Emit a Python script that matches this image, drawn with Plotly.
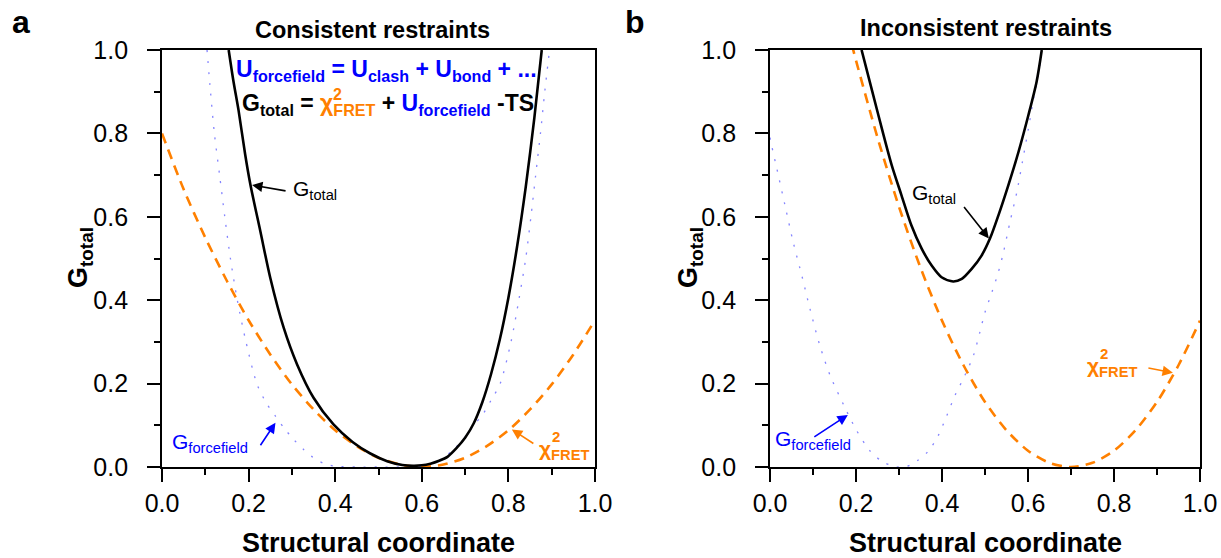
import plotly.graph_objects as go

# ---------------- data ----------------
# Panel a: consistent restraints
xa_fret = [0.00, 0.05, 0.10, 0.15, 0.20, 0.25, 0.30, 0.35, 0.40, 0.45, 0.50,
           0.55, 0.60, 0.65, 0.70, 0.75, 0.80, 0.85, 0.90, 0.95, 1.00]
ya_fret = [0.800, 0.666, 0.550, 0.446, 0.352, 0.270, 0.198, 0.138, 0.088, 0.050, 0.022,
           0.006, 0.000, 0.006, 0.022, 0.050, 0.088, 0.138, 0.198, 0.270, 0.352]

xa_ff = [0.104, 0.112, 0.121, 0.133, 0.145, 0.158, 0.174, 0.194, 0.219, 0.240, 0.262,
         0.283, 0.304, 0.327, 0.350, 0.375, 0.400, 0.450, 0.500, 0.550, 0.600, 0.625,
         0.650, 0.673, 0.696, 0.720, 0.740, 0.760, 0.781, 0.806, 0.824, 0.840, 0.852,
         0.863, 0.874, 0.884, 0.895]
ya_ff = [1.00, 0.90, 0.80, 0.70, 0.60, 0.50, 0.40, 0.30, 0.20, 0.155, 0.122,
         0.092, 0.066, 0.042, 0.022, 0.008, 0.002, 0.000, 0.000, 0.000, 0.002, 0.008,
         0.022, 0.042, 0.066, 0.100, 0.125, 0.160, 0.200, 0.300, 0.400, 0.500, 0.600,
         0.700, 0.800, 0.900, 1.000]

xa_tot = [0.154, 0.165, 0.177, 0.192, 0.204, 0.227, 0.250, 0.281, 0.312, 0.350, 0.396,
          0.440, 0.480, 0.520, 0.555, 0.580, 0.600, 0.620, 0.640, 0.660, 0.680, 0.700,
          0.720, 0.740, 0.760, 0.780, 0.800, 0.820, 0.840, 0.860, 0.877]
ya_tot = [1.000, 0.925, 0.854, 0.750, 0.678, 0.566, 0.454, 0.334, 0.246, 0.166, 0.102,
          0.060, 0.033, 0.014, 0.005, 0.003, 0.004, 0.008, 0.015, 0.025, 0.045, 0.070,
          0.105, 0.156, 0.223, 0.305, 0.406, 0.528, 0.671, 0.838, 1.000]

# Panel b: inconsistent restraints
xb_fret = [0.19, 0.20, 0.25, 0.30, 0.35, 0.40, 0.45, 0.50, 0.55, 0.60, 0.65,
           0.70, 0.75, 0.80, 0.85, 0.90, 0.95, 1.00]
yb_fret = [1.014, 0.975, 0.790, 0.624, 0.478, 0.351, 0.244, 0.156, 0.088, 0.039, 0.010,
           0.000, 0.010, 0.039, 0.088, 0.156, 0.244, 0.351]

xb_ff = [0.000, 0.004, 0.016, 0.035, 0.054, 0.074, 0.093, 0.116, 0.140, 0.174, 0.200,
         0.233, 0.260, 0.287, 0.314, 0.341, 0.368, 0.391, 0.411, 0.430, 0.453, 0.473,
         0.488, 0.500, 0.516, 0.531, 0.543, 0.558, 0.574, 0.587, 0.601, 0.613, 0.624, 0.632]
yb_ff = [0.790, 0.770, 0.715, 0.627, 0.539, 0.459, 0.379, 0.291, 0.219, 0.143, 0.090,
         0.038, 0.014, 0.002, 0.000, 0.014, 0.038, 0.075, 0.123, 0.171, 0.219, 0.267,
         0.323, 0.371, 0.419, 0.467, 0.515, 0.587, 0.659, 0.732, 0.812, 0.884, 0.940, 1.000]

xb_tot = [0.213, 0.236, 0.260, 0.283, 0.306, 0.329, 0.353, 0.376, 0.399, 0.426, 0.446,
          0.469, 0.492, 0.512, 0.531, 0.554, 0.578, 0.601, 0.620, 0.632]
yb_tot = [1.000, 0.908, 0.812, 0.724, 0.651, 0.579, 0.523, 0.483, 0.455, 0.445, 0.451,
          0.475, 0.507, 0.549, 0.603, 0.675, 0.756, 0.844, 0.924, 1.000]

tick_vals = [0.0, 0.2, 0.4, 0.6, 0.8, 1.0]
tick_text = ["0.0", "0.2", "0.4", "0.6", "0.8", "1.0"]

# ---------------- styles ----------------
FONT = "Liberation Sans, Arial, sans-serif"
ORANGE = "#FF8000"
BLUE = "#0000FF"
FF_LINE = dict(color="rgba(80,80,255,0.7)", width=1.3, dash="2px,9px")
FRET_LINE = dict(color=ORANGE, width=2.6, dash="10px,7px")
TOT_LINE = dict(color="black", width=2.6)

fig = go.Figure()
for xs, ys, line, xa, ya in [
    (xa_ff, ya_ff, FF_LINE, "x", "y"),
    (xa_fret, ya_fret, FRET_LINE, "x", "y"),
    (xa_tot, ya_tot, TOT_LINE, "x", "y"),
    (xb_ff, yb_ff, FF_LINE, "x2", "y2"),
    (xb_fret, yb_fret, FRET_LINE, "x2", "y2"),
    (xb_tot, yb_tot, TOT_LINE, "x2", "y2"),
]:
    fig.add_trace(go.Scatter(x=xs, y=ys, mode="lines", line=dict(shape="spline", smoothing=0.8, **line),
                             xaxis=xa, yaxis=ya, showlegend=False, hoverinfo="skip"))

W, H = 1221, 558
PAD = "\u00a0\u00a0"  # gap between y tick labels and ticks

def axis(domain, texts):
    return dict(
        domain=domain, range=[0, 1], showline=True, linewidth=2, linecolor="black",
        mirror=True, ticks="outside", ticklen=13, tickwidth=2, tickcolor="black",
        tickvals=tick_vals, ticktext=texts,
        tickfont=dict(size=25, family=FONT, color="black"), automargin=False,
        minor=dict(dtick=0.1, tick0=0, ticks="outside", ticklen=6, tickwidth=2, tickcolor="black"),
        showgrid=False, zeroline=False,
    )

ytexts = [t + PAD for t in tick_text]
xdom_a = [162 / W, 595 / W]
xdom_b = [770 / W, 1200 / W]
ydom = [1 - 467 / H, 1 - 50 / H]

fig.update_layout(
    width=W, height=H, margin=dict(l=0, r=0, t=0, b=0, autoexpand=False),
    paper_bgcolor="white", plot_bgcolor="white",
    font=dict(family=FONT, color="black"),
    xaxis=dict(axis(xdom_a, tick_text), anchor="y"), yaxis=dict(axis(ydom, ytexts), anchor="x"),
    xaxis2=dict(axis(xdom_b, tick_text), anchor="y2"), yaxis2=dict(axis(ydom, ytexts), anchor="x2"),
)

ann = []

def ptext(text, px, py, size, angle=0, xanchor="center"):
    ann.append(dict(text=text, x=px / W, y=1 - py / H, xref="paper", yref="paper",
                    showarrow=False, font=dict(size=size, family=FONT, color="black"),
                    xanchor=xanchor, yanchor="middle", textangle=angle))

# panel letters and titles
ptext("<b>a</b>", 21, 22, 32)
ptext("<b>b</b>", 635, 22, 32)
ptext("<b>Consistent restraints</b>", 372, 30, 23.5)
ptext("<b>Inconsistent restraints</b>", 986, 28, 23.5)
# axis titles
ptext("<b>Structural coordinate</b>", 378, 543, 27)
ptext("<b>Structural coordinate</b>", 985, 543, 27)
ptext("<b>G<sub>total</sub></b>", 80, 258, 27, angle=-90)
ptext("<b>G<sub>total</sub></b>", 690, 258, 27, angle=-90)

def dtext(text, x, y, xr, yr, size, color, xanchor="left"):
    ann.append(dict(text=text, x=x, y=y, xref=xr, yref=yr, showarrow=False,
                    font=dict(size=size, family=FONT, color=color),
                    xanchor=xanchor, yanchor="middle"))

def arrow(x, y, ax, ay, xr, yr, color):
    ann.append(dict(text="", x=x, y=y, xref=xr, yref=yr, ax=ax, ay=ay,
                    axref="pixel", ayref="pixel", showarrow=True, arrowhead=2,
                    arrowsize=1.3, arrowwidth=1.6, arrowcolor=color, standoff=0))

# formulas in panel a
dtext(f"<b>U<sub>forcefield</sub> = U<sub>clash</sub> + U<sub>bond</sub> + ...</b>",
      0.166, 0.952, "x", "y", 23, BLUE)
dtext(f"<b>G<sub>total</sub> = <span style='color:{ORANGE}'>χ<sub>FRET</sub></span> + "
      f"<span style='color:{BLUE}'>U<sub>forcefield</sub></span> -TS</b>",
      0.180, 0.870, "x", "y", 23, "black")
dtext("<b>2</b>", 0.390, 0.893, "x", "y", 16, ORANGE)

# curve labels, panel a
dtext("G<sub>total</sub>", 0.298, 0.665, "x", "y", 21, "black")
arrow(0.208, 0.676, 35, 6, "x", "y", "black")
dtext("G<sub>forcefield</sub>", 0.018, 0.058, "x", "y", 21, BLUE)
arrow(0.262, 0.106, -16, 24, "x", "y", BLUE)
dtext("<b>χ<sub>FRET</sub></b>", 0.866, 0.041, "x", "y", 21, ORANGE)
dtext("<b>2</b>", 0.896, 0.072, "x", "y", 15, ORANGE)
arrow(0.808, 0.09, 23, 15, "x", "y", ORANGE)

# curve labels, panel b
dtext("G<sub>total</sub>", 0.326, 0.655, "x2", "y2", 21, "black")
arrow(0.509, 0.548, -26, -33, "x2", "y2", "black")
dtext("G<sub>forcefield</sub>", 0.007, 0.065, "x2", "y2", 21, BLUE)
arrow(0.181, 0.125, -35, 23, "x2", "y2", BLUE)
dtext("<b>χ<sub>FRET</sub></b>", 0.733, 0.240, "x2", "y2", 21, ORANGE)
dtext("<b>2</b>", 0.763, 0.272, "x2", "y2", 15, ORANGE)
arrow(0.937, 0.226, -26, -5, "x2", "y2", ORANGE)

fig.update_layout(annotations=ann)
fig.write_html("out.html")
